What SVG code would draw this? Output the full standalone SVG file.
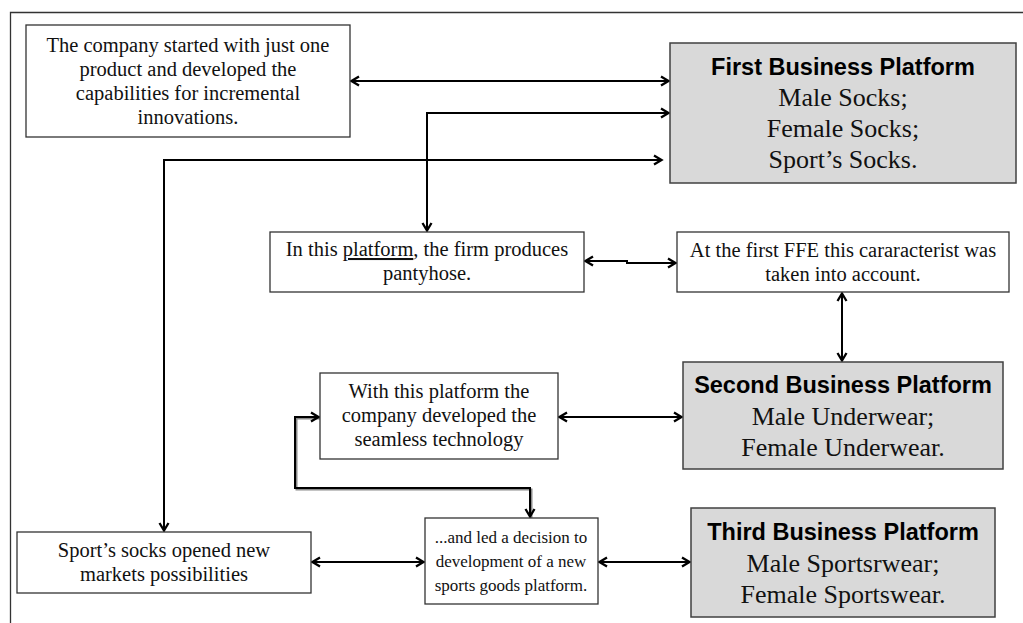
<svg xmlns="http://www.w3.org/2000/svg" width="1023" height="623" viewBox="0 0 1023 623">
<style>
.box{fill:#ffffff;stroke:#333333;stroke-width:1.3}
.gbox{fill:#d9d9d9;stroke:#404040;stroke-width:1.5}
.t{font-family:"Liberation Serif","Times New Roman",serif;font-size:20.5px;fill:#111111;text-anchor:middle}
.ts{font-family:"Liberation Serif","Times New Roman",serif;font-size:17px;fill:#111111;text-anchor:middle}
.tg{font-family:"Liberation Serif","Times New Roman",serif;font-size:26px;fill:#111111;text-anchor:middle}
.tb{font-family:"Liberation Sans",Arial,sans-serif;font-size:23.5px;font-weight:bold;fill:#000000;text-anchor:middle}
.c{fill:none;stroke:#000000;stroke-width:2}
.sh{fill:none;stroke:#8a8a8a;stroke-width:2}
</style>
<defs>
<marker id="ah" viewBox="0 0 12 12" refX="10.5" refY="6" markerWidth="12" markerHeight="12" markerUnits="userSpaceOnUse" orient="auto-start-reverse">
<path d="M2.5,1.5 L10,6 L2.5,10.5" fill="none" stroke="#000000" stroke-width="2.3" stroke-linejoin="miter"/>
</marker>
</defs>
<rect x="0" y="0" width="1023" height="623" fill="#ffffff"/>
<path d="M10.5,623 V12.5 H1023" fill="none" stroke="#333333" stroke-width="1.3"/>

<g id="connectors">
<path class="c" d="M351,81 H669" marker-start="url(#ah)" marker-end="url(#ah)"/>
<path class="c" d="M427,231 V113 H669" marker-start="url(#ah)" marker-end="url(#ah)"/>
<path class="c" d="M164,531 V160 H662" marker-start="url(#ah)" marker-end="url(#ah)"/>
<path class="c" d="M585,261 H627 V263 H676" marker-start="url(#ah)" marker-end="url(#ah)"/>
<path class="c" d="M842,293 V361" marker-start="url(#ah)" marker-end="url(#ah)"/>
<path class="c" d="M559,417 H682" marker-start="url(#ah)" marker-end="url(#ah)"/>
<path class="sh" d="M321.5,418.5 H296.5 V489.5 H531.5 V518"/>
<path class="c" d="M319,417 H295 V488 H530 V517" marker-start="url(#ah)" marker-end="url(#ah)"/>
<path class="c" d="M312,562 H424" marker-start="url(#ah)" marker-end="url(#ah)"/>
<path class="c" d="M599,562 H690" marker-start="url(#ah)" marker-end="url(#ah)"/>
</g>

<g id="node-start">
<rect class="box" x="26" y="25" width="324" height="112"/>
<text class="t" x="188" y="52">The company started with just one</text>
<text class="t" x="188" y="76">product and developed the</text>
<text class="t" x="188" y="100">capabilities for incremental</text>
<text class="t" x="188" y="124">innovations.</text>
</g>

<g id="node-first-platform">
<rect class="gbox" x="670" y="43" width="346" height="140"/>
<text class="tb" x="843" y="75">First Business Platform</text>
<text class="tg" x="843" y="106">Male Socks;</text>
<text class="tg" x="843" y="137">Female Socks;</text>
<text class="tg" x="843" y="168">Sport’s Socks.</text>
</g>

<g id="node-pantyhose">
<rect class="box" x="270" y="232" width="314" height="60"/>
<text class="t" x="427" y="256">In this <tspan text-decoration="underline">platform</tspan>, the firm produces</text>
<text class="t" x="427" y="280">pantyhose.</text>
</g>

<g id="node-ffe">
<rect class="box" x="677" y="232" width="332" height="60"/>
<text class="t" x="843" y="257">At the first FFE this cararacterist was</text>
<text class="t" x="843" y="281">taken into account.</text>
</g>

<g id="node-seamless">
<rect class="box" x="320" y="373" width="238" height="86"/>
<text class="t" x="439" y="398">With this platform the</text>
<text class="t" x="439" y="422">company developed the</text>
<text class="t" x="439" y="446">seamless technology</text>
</g>

<g id="node-second-platform">
<rect class="gbox" x="683" y="362" width="320" height="107"/>
<text class="tb" x="843" y="393">Second Business Platform</text>
<text class="tg" x="843" y="425">Male Underwear;</text>
<text class="tg" x="843" y="456">Female Underwear.</text>
</g>

<g id="node-sport-socks">
<rect class="box" x="17" y="532" width="294" height="61"/>
<text class="t" x="164" y="557">Sport’s socks opened new</text>
<text class="t" x="164" y="581">markets possibilities</text>
</g>

<g id="node-decision">
<rect class="box" x="425" y="518" width="173" height="86"/>
<text class="ts" x="511" y="543">...and led a decision to</text>
<text class="ts" x="511" y="567">development of a new</text>
<text class="ts" x="511" y="591">sports goods platform.</text>
</g>

<g id="node-third-platform">
<rect class="gbox" x="691" y="508" width="304" height="109"/>
<text class="tb" x="843" y="540">Third Business Platform</text>
<text class="tg" x="843" y="572">Male Sportsrwear;</text>
<text class="tg" x="843" y="603">Female Sportswear.</text>
</g>
</svg>
